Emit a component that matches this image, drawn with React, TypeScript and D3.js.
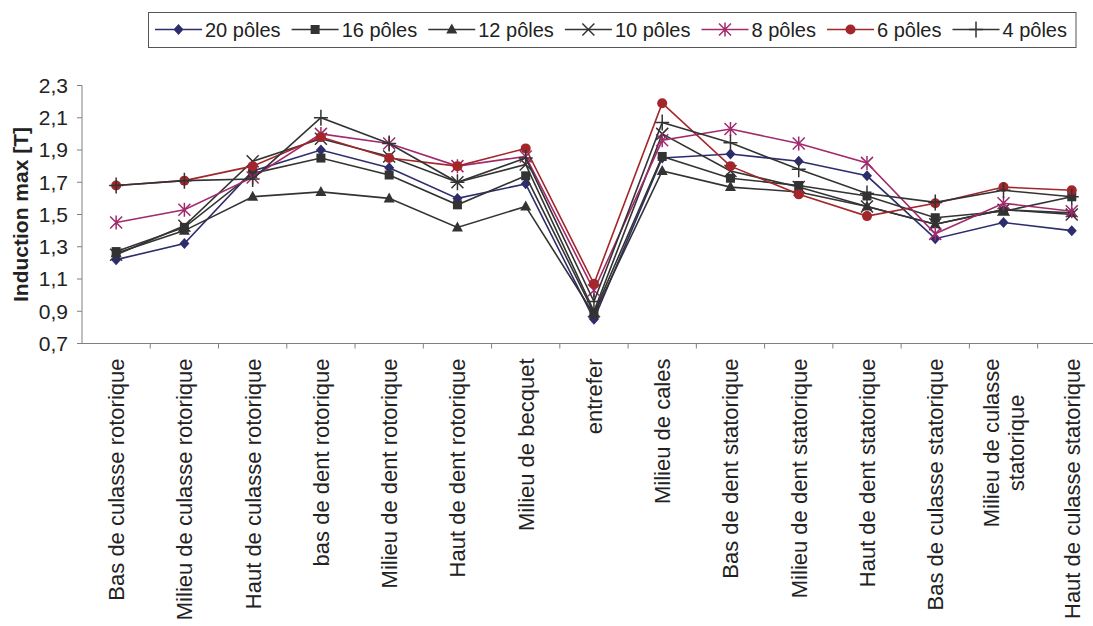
import React, { useEffect, useRef } from "react";
import * as d3 from "d3";

const categories: string[][] = [
  ["Bas de culasse rotorique"],
  ["Milieu de culasse rotorique"],
  ["Haut de culasse rotorique"],
  ["bas de dent rotorique"],
  ["Milieu de dent rotorique"],
  ["Haut de dent rotorique"],
  ["Milieu de becquet"],
  ["entrefer"],
  ["Milieu de cales"],
  ["Bas de dent statorique"],
  ["Milieu de dent statorique"],
  ["Haut de dent statorique"],
  ["Bas de culasse statorique"],
  ["Milieu de culasse", "statorique"],
  ["Haut de culasse statorique"],
];

const yTicks = [0.7, 0.9, 1.1, 1.3, 1.5, 1.7, 1.9, 2.1, 2.3];

const p20 = [1.22, 1.32, 1.77, 1.90, 1.79, 1.60, 1.69, 0.85, 1.85, 1.875, 1.83, 1.74, 1.35, 1.45, 1.40];
const p16 = [1.27, 1.42, 1.755, 1.85, 1.745, 1.56, 1.74, 0.89, 1.86, 1.725, 1.68, 1.615, 1.48, 1.52, 1.61];
const p12 = [1.26, 1.40, 1.61, 1.64, 1.60, 1.42, 1.55, 0.88, 1.77, 1.67, 1.64, 1.55, 1.44, 1.53, 1.51];
const p10 = [1.25, 1.43, 1.83, 1.97, 1.86, 1.70, 1.81, 0.90, 2.00, 1.77, 1.67, 1.55, 1.44, 1.53, 1.50];
const p8 = [1.45, 1.53, 1.73, 2.00, 1.94, 1.80, 1.86, 1.03, 1.96, 2.03, 1.94, 1.82, 1.38, 1.57, 1.52];
const p6 = [1.68, 1.71, 1.80, 1.98, 1.85, 1.80, 1.91, 1.07, 2.19, 1.80, 1.625, 1.49, 1.57, 1.67, 1.65];
const p4 = [1.68, 1.71, 1.72, 2.10, 1.94, 1.70, 1.85, 0.96, 2.07, 1.945, 1.78, 1.63, 1.575, 1.65, 1.61];

const seriesNames = ["20 pôles", "16 pôles", "12 pôles", "10 pôles", "8 pôles", "6 pôles", "4 pôles"];
const seriesValues = [p20, p16, p12, p10, p8, p6, p4];
const seriesColors = ["#2d2d6e", "#333333", "#333333", "#333333", "#a12a6c", "#a3262a", "#333333"];
const seriesMarkers = ["diamond", "square", "triangle", "x", "asterisk", "circle", "plus"];

const FONT = "'Liberation Sans', Arial, Helvetica, sans-serif";

function drawMarker(g: any, type: string, x: number, y: number, color: string) {
  if (type === "diamond") {
    g.append("path").attr("d", `M${x},${y - 5.5}L${x + 5},${y}L${x},${y + 5.5}L${x - 5},${y}Z`).attr("fill", color);
  } else if (type === "square") {
    g.append("rect").attr("x", x - 4.5).attr("y", y - 4.5).attr("width", 9).attr("height", 9).attr("fill", color);
  } else if (type === "triangle") {
    g.append("path").attr("d", `M${x},${y - 6}L${x + 5.5},${y + 4}L${x - 5.5},${y + 4}Z`).attr("fill", color);
  } else if (type === "circle") {
    g.append("circle").attr("cx", x).attr("cy", y).attr("r", 5).attr("fill", color);
  } else if (type === "x") {
    g.append("path").attr("d", `M${x - 6},${y - 6}L${x + 6},${y + 6}M${x - 6},${y + 6}L${x + 6},${y - 6}`)
      .attr("stroke", color).attr("stroke-width", 1.5).attr("fill", "none");
  } else if (type === "asterisk") {
    g.append("path").attr("d", `M${x - 6},${y - 6}L${x + 6},${y + 6}M${x - 6},${y + 6}L${x + 6},${y - 6}M${x},${y - 7}L${x},${y + 7}`)
      .attr("stroke", color).attr("stroke-width", 1.5).attr("fill", "none");
  } else if (type === "plus") {
    g.append("path").attr("d", `M${x - 7},${y}L${x + 7},${y}M${x},${y - 8}L${x},${y + 8}`)
      .attr("stroke", color).attr("stroke-width", 1.5).attr("fill", "none");
  }
}

export default function App() {
  const ref = useRef<SVGSVGElement | null>(null);

  useEffect(() => {
    const svg = d3.select(ref.current);
    svg.selectAll("*").remove();

    const catKeys = categories.map((c) => c.join(" "));
    const x = d3.scaleBand<string>().domain(catKeys).range([82, 82 + 15 * 68.26]).padding(0);
    const cx = (i: number) => (x(catKeys[i]) as number) + x.bandwidth() / 2;
    const y = d3.scaleLinear().domain([0.7, 2.3]).range([343.5, 85.5]);

    const axisColor = "#808080";

    // Y axis
    const ya = svg.append("g");
    ya.append("line").attr("x1", 82).attr("x2", 82).attr("y1", y(2.3)).attr("y2", y(0.7))
      .attr("stroke", axisColor).attr("stroke-width", 1);
    yTicks.forEach((t) => {
      ya.append("line").attr("x1", 77).attr("x2", 82).attr("y1", y(t)).attr("y2", y(t))
        .attr("stroke", axisColor).attr("stroke-width", 1);
      ya.append("text").attr("x", 68).attr("y", y(t)).attr("dy", "0.35em")
        .attr("text-anchor", "end").attr("font-family", FONT).attr("font-size", 21)
        .attr("fill", "#222").text(d3.format(".1f")(t).replace(".", ","));
    });
    ya.append("text")
      .attr("transform", `translate(28,${(y(2.3) + y(0.7)) / 2}) rotate(-90)`)
      .attr("text-anchor", "middle").attr("font-family", FONT).attr("font-size", 21)
      .attr("font-weight", "bold").attr("fill", "#222").text("Induction max [T]");

    // X axis
    const xa = svg.append("g");
    const [r0, r1] = x.range();
    xa.append("line").attr("x1", r0).attr("x2", r1).attr("y1", y(0.7)).attr("y2", y(0.7))
      .attr("stroke", axisColor).attr("stroke-width", 1);
    catKeys.forEach((k, i) => {
      const bx = x(k) as number;
      xa.append("line").attr("x1", bx + x.bandwidth()).attr("x2", bx + x.bandwidth())
        .attr("y1", y(0.7)).attr("y2", y(0.7) + 5).attr("stroke", axisColor);
      const lines = categories[i];
      const lh = 25;
      const texts = lines.map((ln, j) => {
        const off = (j - (lines.length - 1) / 2) * lh;
        return xa.append("text")
          .attr("transform", `translate(${cx(i) + off},${y(0.7) + 15}) rotate(-90)`)
          .attr("dy", "0.36em")
          .attr("text-anchor", lines.length > 1 ? "middle" : "end")
          .attr("font-family", FONT).attr("font-size", 22).attr("fill", "#222")
          .text(ln);
      });
      if (lines.length > 1) {
        const maxW = d3.max(texts, (t: any) => (t.node() as SVGTextElement).getComputedTextLength()) as number;
        texts.forEach((t: any) => t.attr("x", -maxW / 2));
      }
    });

    // Series
    const line = d3.line<number>().x((_, i) => cx(i)).y((v) => y(v));
    seriesValues.forEach((vals, s) => {
      const g = svg.append("g");
      g.append("path").attr("d", line(vals) as string).attr("fill", "none")
        .attr("stroke", seriesColors[s]).attr("stroke-width", 1.6);
      vals.forEach((v, i) => drawMarker(g, seriesMarkers[s], cx(i), y(v), seriesColors[s]));
    });

    // Legend
    const lg = svg.append("g");
    const box = lg.append("rect").attr("x", 148.5).attr("y", 12.5).attr("height", 35)
      .attr("fill", "white").attr("stroke", "#555").attr("stroke-width", 1);
    let lx = 155;
    const ly = 29.5;
    seriesNames.forEach((name, s) => {
      lg.append("line").attr("x1", lx).attr("x2", lx + 47).attr("y1", ly).attr("y2", ly)
        .attr("stroke", seriesColors[s]).attr("stroke-width", 1.6);
      drawMarker(lg, seriesMarkers[s], lx + 23.5, ly, seriesColors[s]);
      const t = lg.append("text").attr("x", lx + 50).attr("y", ly).attr("dy", "0.35em")
        .attr("font-family", FONT).attr("font-size", 20).attr("fill", "#222").text(name);
      const w = (t.node() as SVGTextElement).getComputedTextLength();
      lx = lx + 50 + w + 11;
    });
    box.attr("width", lx - 148.5 - 2);
  }, []);

  return (
    <svg
      ref={ref}
      width={1093}
      height={626}
      style={{ position: "absolute", left: 0, top: 0, background: "white" }}
    />
  );
}
